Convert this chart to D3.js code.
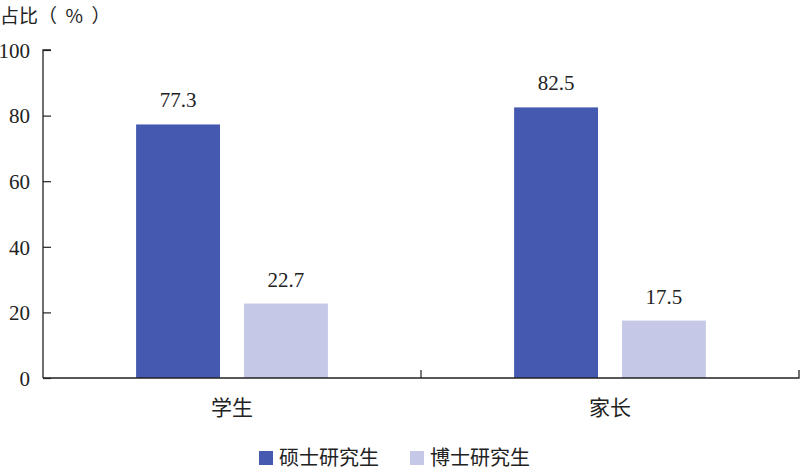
<!DOCTYPE html>
<html><head><meta charset="utf-8">
<script src="https://cdn.jsdelivr.net/npm/d3@7"></script>
<style>body{margin:0;background:#fff}</style>
</head><body>
<svg id="c" width="801" height="470"></svg>
<script>
const categories = ["学生", "家长"];
const seriesNames = ["硕士研究生", "博士研究生"];
const master = [77.3, 82.5];
const doctor = [22.7, 17.5];
const yTicks = [0, 20, 40, 60, 80, 100];
const colors = ["#4659b0", "#c5c9e7"];

const svg = d3.select("#c");
const font = "'Liberation Serif','Noto Sans CJK SC',serif";
const cjk = "'Noto Sans CJK SC',sans-serif";
const m = {l: 43, r: 799, t: 50, b: 378};
const x = d3.scaleBand().domain(categories).range([m.l, m.r]);
const xs = d3.scaleBand().domain(seriesNames).range([0, x.bandwidth()]).paddingInner(0.2222).paddingOuter(0.863);
const y = d3.scaleLinear().domain([0, 100]).range([m.b, m.t]);

const series = [master, doctor];
categories.forEach((c, i) => {
  seriesNames.forEach((s, j) => {
    const v = series[j][i];
    svg.append("rect").attr("x", x(c) + xs(s)).attr("width", xs.bandwidth())
      .attr("y", y(v)).attr("height", y(0) - y(v)).attr("fill", colors[j]);
    svg.append("text").attr("x", x(c) + xs(s) + xs.bandwidth()/2).attr("y", y(v) - 17)
      .attr("text-anchor", "middle").attr("font-family", font).attr("font-size", 21).attr("fill", "#222").text(v.toFixed(1));
  });
});

const ya = svg.append("g").attr("transform", `translate(${m.l},0)`)
  .call(d3.axisRight(y).tickValues(yTicks).tickSize(8).tickFormat(d => d));
ya.select(".domain").attr("stroke", "#222").attr("stroke-width", 1.3).attr("d", `M8,${m.t}H0V${m.b}`);
ya.selectAll(".tick line").attr("stroke", "#222").attr("stroke-width", 1.2);
ya.selectAll(".tick text").attr("x", -13).attr("dy", "0.35em").attr("text-anchor", "end").attr("font-family", font).attr("font-size", 21).attr("fill", "#222");

const xa = svg.append("g").attr("transform", `translate(0,${m.b})`)
  .call(d3.axisTop(x).tickSize(0).tickFormat(""));
xa.select(".domain").attr("stroke", "#222").attr("stroke-width", 1.3).attr("d", `M${m.l},0H${m.r}V-8`);
xa.selectAll(".tick").remove();
xa.selectAll(".sep").data(categories.slice(1)).enter().append("line")
  .attr("x1", d => x(d)).attr("x2", d => x(d)).attr("y1", 0).attr("y2", -8).attr("stroke", "#222").attr("stroke-width", 1.2);
svg.selectAll(".cat").data(categories).enter().append("text")
  .attr("x", d => x(d) + x.bandwidth()/2).attr("y", 415).attr("text-anchor", "middle")
  .attr("font-family", cjk).attr("font-size", 21).attr("fill", "#222").text(d => d);

svg.append("text").attr("x", 0).attr("y", 23).attr("font-family", cjk).attr("font-size", 19)
  .style("white-space", "pre").attr("fill", "#222").text("占比（  %  ）");

const lg = [{x: 259}, {x: 410}];
seriesNames.forEach((s, j) => {
  svg.append("rect").attr("x", lg[j].x).attr("y", 451).attr("width", 14).attr("height", 14).attr("fill", colors[j]);
  svg.append("text").attr("x", lg[j].x + 20).attr("y", 465).attr("font-family", cjk).attr("font-size", 20).attr("fill", "#222").text(s);
});
</script>
</body></html>
